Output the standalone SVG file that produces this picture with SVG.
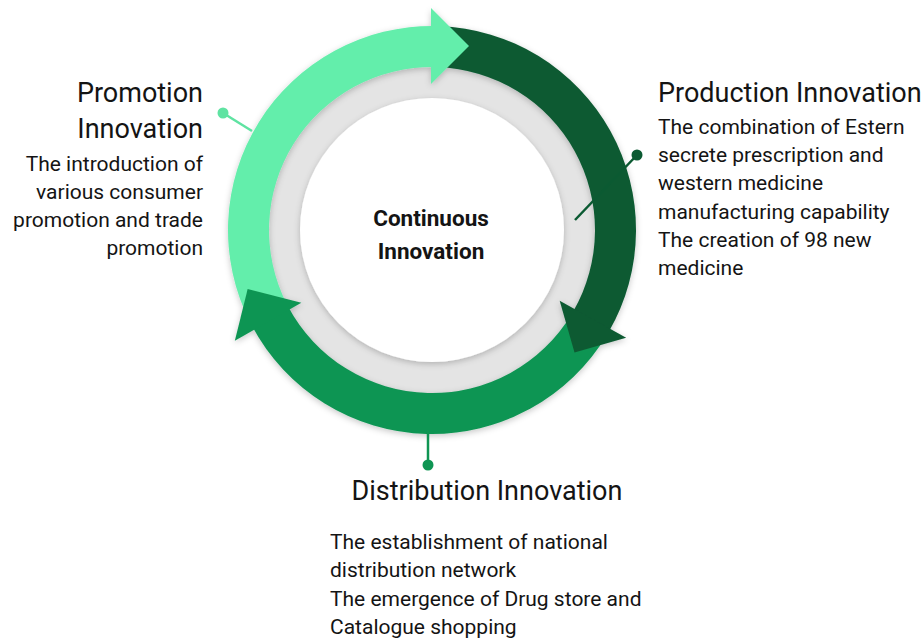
<svg xmlns="http://www.w3.org/2000/svg" width="923" height="643" viewBox="0 0 923 643">
<style>
.t{font-family:Roboto,"Liberation Sans",sans-serif;fill:#141414}
.h{font-size:27px}
.b{font-size:21px}
.c{font-size:22.5px;font-weight:bold;text-anchor:middle}
.r{text-anchor:end}
.light{fill:#64EEAB}
.dark{fill:#0B5A32}
.mid{fill:#0F9553}
</style>
<defs>
<filter id="sh" x="-20%" y="-20%" width="140%" height="140%">
<feDropShadow dx="0" dy="2" stdDeviation="3" flood-color="#000" flood-opacity="0.22"/>
</filter>
</defs>
<rect width="923" height="643" fill="#fff"/>
<g id="cycle">
<circle cx="432" cy="230" r="165" fill="#E4E4E4"/>
<circle cx="432" cy="230" r="132" fill="#fff" filter="url(#sh)"/>
<g filter="url(#sh)">
<path class="light" d="M 250.23 322.62 A 204 204 0 0 1 435.56 26.03 L 434.84 67.02 A 163 163 0 0 0 286.77 304.00 Z"/>
<path class="dark" d="M 439.12 26.12 A 204 204 0 0 1 608.67 332 L 573.16 311.5 A 163 163 0 0 0 437.69 67.10 Z"/>
<path class="mid" d="M 606.86 335.06 A 204 204 0 0 1 251.88 325.78 L 288.09 306.53 A 163 163 0 0 0 571.72 313.95 Z"/>
<polygon class="light" points="431,8 469,46 431,84"/>
<polygon class="dark" points="626.16,337.63 574.51,352.43 559.69,300.78"/>
<polygon class="mid" points="234.84,340.63 247.65,288.97 301.31,302.78"/>
</g>
</g>
<g id="connectors" stroke-width="2.5">
<line x1="223" y1="113" x2="252" y2="131" stroke="#5FE3A2"/>
<circle cx="223" cy="113" r="5.5" fill="#5FE3A2"/>
<line x1="637" y1="155" x2="575" y2="220" stroke="#0B5A32"/>
<circle cx="637" cy="155" r="5.5" fill="#0B5A32"/>
<line x1="428" y1="430" x2="428" y2="465" stroke="#0F9553"/>
<circle cx="428" cy="465" r="5.5" fill="#0F9553"/>
</g>
<g id="center">
<text class="t c" x="431" y="226">Continuous</text>
<text class="t c" x="431" y="259">Innovation</text>
</g>
<g id="promotion">
<text class="t h r" x="203" y="102">Promotion</text>
<text class="t h r" x="203" y="138">Innovation</text>
<text class="t b r" x="203" y="171">The introduction of</text>
<text class="t b r" x="203" y="199">various consumer</text>
<text class="t b r" x="203" y="227">promotion and trade</text>
<text class="t b r" x="203" y="255">promotion</text>
</g>
<g id="production">
<text class="t h" x="658" y="102">Production Innovation</text>
<text class="t b" x="658" y="134">The combination of Estern</text>
<text class="t b" x="658" y="162">secrete prescription and</text>
<text class="t b" x="658" y="190">western medicine</text>
<text class="t b" x="658" y="219">manufacturing capability</text>
<text class="t b" x="658" y="247">The creation of 98 new</text>
<text class="t b" x="658" y="275">medicine</text>
</g>
<g id="distribution">
<text class="t h" x="487" y="500" text-anchor="middle">Distribution Innovation</text>
<text class="t b" x="330" y="549">The establishment of national</text>
<text class="t b" x="330" y="577">distribution network</text>
<text class="t b" x="330" y="606">The emergence of Drug store and</text>
<text class="t b" x="330" y="634">Catalogue shopping</text>
</g>
</svg>
